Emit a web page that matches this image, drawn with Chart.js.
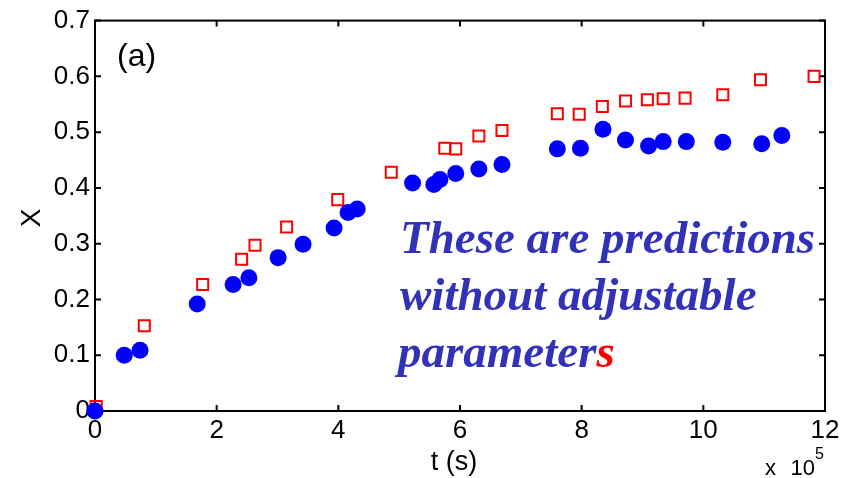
<!DOCTYPE html>
<html>
<head>
<meta charset="utf-8">
<script src="https://cdn.jsdelivr.net/npm/chart.js@4.4.1/dist/chart.umd.min.js"></script>
<style>
  html, body { margin: 0; padding: 0; background: #ffffff; }
  #wrap { width: 846px; height: 478px; }
</style>
</head>
<body>
<div id="wrap"><canvas id="c" width="846" height="478"></canvas></div>
<script>
// t in units of 10^5 s
const measuredT = [0, 0.48, 0.74, 1.68, 2.27, 2.53, 3.01, 3.42, 3.93, 4.16, 4.31, 5.22, 5.57, 5.67, 5.93, 6.31, 6.69, 7.60, 7.98, 8.35, 8.72, 9.10, 9.34, 9.72, 10.32, 10.96, 11.29];
const measuredX = [0, 0.100, 0.109, 0.192, 0.227, 0.239, 0.275, 0.299, 0.328, 0.356, 0.362, 0.409, 0.406, 0.415, 0.426, 0.434, 0.442, 0.470, 0.471, 0.505, 0.486, 0.475, 0.483, 0.483, 0.482, 0.479, 0.494];
const predictedT = [0.02, 0.81, 1.77, 2.41, 2.63, 3.15, 3.99, 4.87, 5.75, 5.93, 6.31, 6.69, 7.60, 7.96, 8.34, 8.72, 9.08, 9.34, 9.70, 10.32, 10.94, 11.82];
const predictedX = [0.008, 0.153, 0.227, 0.272, 0.297, 0.330, 0.379, 0.428, 0.471, 0.470, 0.493, 0.503, 0.533, 0.532, 0.546, 0.556, 0.558, 0.560, 0.561, 0.567, 0.594, 0.600];
const xTicks = [0, 2, 4, 6, 8, 10, 12];
const yTicks = [0, 0.1, 0.2, 0.3, 0.4, 0.5, 0.6, 0.7];
const panelLabel = '(a)';
const xTitle = 't (s)';
const yTitle = 'X';
const noteLines = ['These are predictions', 'without adjustable', 'parameter'];
const noteLastRed = 's';

const toPts = (xs, ys) => xs.map((v, i) => ({ x: v, y: ys[i] }));

const framePlugin = {
  id: 'frame',
  beforeDatasetsDraw(chart) {
    const { ctx, chartArea: a, scales: { x, y } } = chart;
    ctx.save();
    ctx.strokeStyle = '#000';
    ctx.lineWidth = 2;
    ctx.strokeRect(a.left, a.top, a.right - a.left, a.bottom - a.top);
    const L = 6;
    ctx.beginPath();
    xTicks.forEach(v => {
      const px = x.getPixelForValue(v);
      ctx.moveTo(px, a.bottom); ctx.lineTo(px, a.bottom - L);
      ctx.moveTo(px, a.top); ctx.lineTo(px, a.top + L);
    });
    yTicks.forEach(v => {
      const py = y.getPixelForValue(v);
      ctx.moveTo(a.left, py); ctx.lineTo(a.left + L, py);
      ctx.moveTo(a.right, py); ctx.lineTo(a.right - L, py);
    });
    ctx.stroke();
    ctx.restore();
  },
  afterDraw(chart) {
    const { ctx, chartArea: a } = chart;
    ctx.save();
    ctx.fillStyle = '#000';
    ctx.textBaseline = 'alphabetic';
    // panel label
    ctx.font = '32px "Liberation Sans", Arial, sans-serif';
    ctx.textAlign = 'left';
    ctx.fillText(panelLabel, 117, 66);
    // x title
    ctx.font = '27px "Liberation Sans", Arial, sans-serif';
    ctx.textAlign = 'center';
    ctx.fillText(xTitle, (a.left + a.right) / 2 - 6, 470);
    // y title
    ctx.save();
    ctx.translate(32, (a.top + a.bottom) / 2 + 2);
    ctx.rotate(-Math.PI / 2);
    ctx.font = '28px "Liberation Sans", Arial, sans-serif';
    ctx.textAlign = 'center';
    ctx.textBaseline = 'middle';
    ctx.fillText(yTitle, 0, 0);
    ctx.restore();
    // multiplier
    ctx.font = '22px "Liberation Sans", Arial, sans-serif';
    ctx.textAlign = 'left';
    ctx.fillText('x', 765, 475);
    ctx.textAlign = 'right';
    ctx.fillText('10', 815, 475);
    ctx.font = '16px "Liberation Sans", Arial, sans-serif';
    ctx.textAlign = 'left';
    ctx.fillText('5', 815, 459);
    // annotation
    ctx.font = 'italic bold 47px "Liberation Serif", "Times New Roman", serif';
    ctx.fillStyle = '#3232b9';
    ctx.textAlign = 'left';
    ctx.fillText(noteLines[0], 400, 253);
    ctx.fillText(noteLines[1], 400, 310);
    ctx.fillText(noteLines[2], 398, 367);
    const w = ctx.measureText(noteLines[2]).width;
    ctx.fillStyle = '#ff0000';
    ctx.fillText(noteLastRed, 398 + w, 367);
    ctx.restore();
  }
};

new Chart(document.getElementById('c'), {
  type: 'scatter',
  data: {
    datasets: [
      {
        label: 'measured',
        data: toPts(measuredT, measuredX),
        pointStyle: 'circle',
        pointRadius: 8.5,
        pointHoverRadius: 8.5,
        backgroundColor: '#0000ff',
        borderColor: '#0000ff',
        borderWidth: 0,
        clip: false
      },
      {
        label: 'predicted',
        data: toPts(predictedT, predictedX),
        pointStyle: 'rect',
        pointRadius: 7.8,
        pointHoverRadius: 7.8,
        backgroundColor: 'rgba(255,255,255,0)',
        borderColor: '#ff0000',
        borderWidth: 2,
        clip: false
      }
    ]
  },
  options: {
    responsive: false,
    animation: false,
    events: [],
    layout: { padding: { left: 0, top: 20, right: 21, bottom: 0 } },
    plugins: { legend: { display: false }, tooltip: { enabled: false } },
    scales: {
      x: {
        type: 'linear',
        min: 0, max: 12,
        afterFit(s) { s.height = 67; },
        afterBuildTicks(s) { s.ticks = xTicks.map(v => ({ value: v })); },
        grid: { display: false, drawTicks: false },
        border: { display: false },
        ticks: {
          padding: 4,
          color: '#000',
          font: { family: '"Liberation Sans", Arial, sans-serif', size: 26 },
          callback: v => String(v)
        }
      },
      y: {
        type: 'linear',
        min: 0, max: 0.7,
        afterFit(s) { s.width = 95; },
        afterBuildTicks(s) { s.ticks = yTicks.map(v => ({ value: v })); },
        grid: { display: false, drawTicks: false },
        border: { display: false },
        ticks: {
          padding: 5,
          color: '#000',
          font: { family: '"Liberation Sans", Arial, sans-serif', size: 26 },
          callback: v => (v === 0 ? '0' : Number(v).toFixed(1))
        }
      }
    }
  },
  plugins: [framePlugin]
});
</script>
</body>
</html>
